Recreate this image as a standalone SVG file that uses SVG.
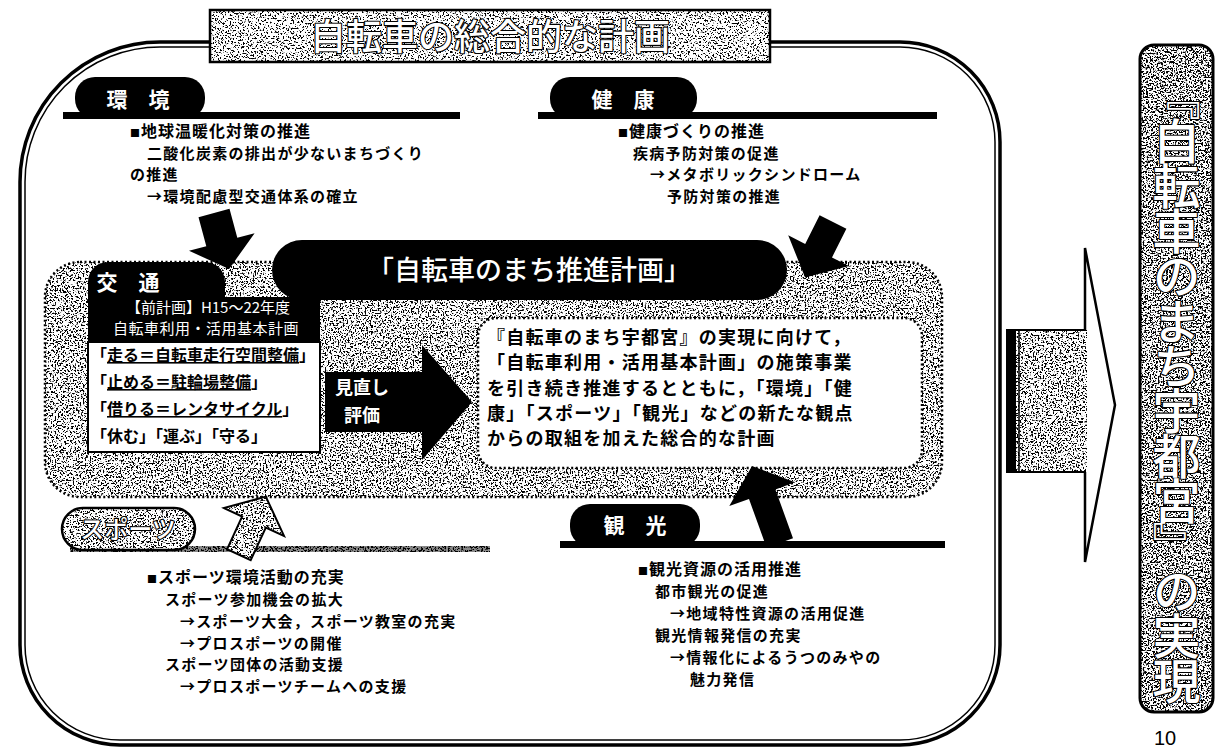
<svg xmlns="http://www.w3.org/2000/svg" width="1219" height="752" viewBox="0 0 1219 752">
<defs>
<style>
.t{font-family:"Noto Sans CJK JP","Noto Sans CJK SC",sans-serif;font-weight:700;font-size:15px;letter-spacing:1.3px;fill:#000}
.hd{font-size:16px;letter-spacing:1px}
.sq{font-size:10px}
.lab{font-family:"Noto Sans CJK JP","Noto Sans CJK SC",sans-serif;font-weight:700;font-size:21px;fill:#fff;text-anchor:middle}
.ol{font-family:"Noto Sans CJK JP","Noto Sans CJK SC",sans-serif;font-weight:500;fill:#fff;stroke:#000;stroke-width:2.2px;paint-order:stroke fill;stroke-linejoin:round}
.blk{fill:#000}
.dotted{fill:none;stroke:#000;stroke-width:2.5;stroke-dasharray:2 2.5}
.box{fill:none;stroke:#000;stroke-width:2.5}
.body{font-size:18px;letter-spacing:1.25px}
.hdr{font-family:"Noto Sans CJK JP","Noto Sans CJK SC",sans-serif;font-weight:400;font-size:15px;fill:#fff;text-anchor:middle}
</style>
<filter id="stipL" x="0" y="0" width="1" height="1" color-interpolation-filters="sRGB">
<feTurbulence type="fractalNoise" baseFrequency="0.6" numOctaves="2" seed="7" result="n"/>
<feColorMatrix in="n" type="matrix" values="0 0 0 0 0  0 0 0 0 0  0 0 0 0 0  -12 0 0 0 5.35" result="d"/>
<feComposite in="d" in2="SourceAlpha" operator="in" result="c"/>
<feMerge><feMergeNode in="SourceGraphic"/><feMergeNode in="c"/></feMerge>
</filter>
<filter id="stipM" x="0" y="0" width="1" height="1" color-interpolation-filters="sRGB">
<feTurbulence type="fractalNoise" baseFrequency="0.6" numOctaves="2" seed="5" result="n"/>
<feColorMatrix in="n" type="matrix" values="0 0 0 0 0  0 0 0 0 0  0 0 0 0 0  -12 0 0 0 5.6" result="d"/>
<feComposite in="d" in2="SourceAlpha" operator="in" result="c"/>
<feMerge><feMergeNode in="SourceGraphic"/><feMergeNode in="c"/></feMerge>
</filter>
<filter id="stipD" x="0" y="0" width="1" height="1" color-interpolation-filters="sRGB">
<feTurbulence type="fractalNoise" baseFrequency="0.6" numOctaves="2" seed="11" result="n"/>
<feColorMatrix in="n" type="matrix" values="0 0 0 0 0  0 0 0 0 0  0 0 0 0 0  -12 0 0 0 6.05" result="d"/>
<feComposite in="d" in2="SourceAlpha" operator="in" result="c"/>
<feMerge><feMergeNode in="SourceGraphic"/><feMergeNode in="c"/></feMerge>
</filter>
</defs>
<rect width="1219" height="752" fill="#fff"/>

<g id="frame">
<path d="M160,42 H900 A100,100 0 0 1 1000,142 V645 A100,100 0 0 1 900,745 H120 A100,100 0 0 1 20,645 V182 A140,140 0 0 1 160,42 Z" fill="none" stroke="#000" stroke-width="3.5"/>
<path d="M160,47 H900 A95,95 0 0 1 995,142 V645 A95,95 0 0 1 900,740 H120 A95,95 0 0 1 25,645 V182 A135,135 0 0 1 160,47 Z" fill="none" stroke="#000" stroke-width="1.5"/>
</g>

<g id="title">
<rect x="210" y="10" width="560" height="52" fill="#fff" filter="url(#stipL)"/>
<rect x="210" y="10" width="560" height="52" class="box"/>
<text x="490" y="50" class="ol" font-size="36" text-anchor="middle">自転車の総合的な計画</text>
</g>

<g id="plan-band">
<rect x="45" y="262" width="897" height="235" rx="35" fill="#fff" filter="url(#stipM)"/>
<rect x="45" y="262" width="897" height="235" rx="35" class="dotted"/>
</g>

<g id="plan-title">
<rect x="272" y="240" width="515" height="60" rx="30" class="blk"/>
<text x="529" y="280" class="lab" style="font-size:27px;font-weight:500">「自転車のまち推進計画」</text>
</g>

<g id="traffic">
<path d="M88,342 V282 A20,20 0 0 1 108,262 H205 A20,20 0 0 1 225,282 V297 H320 V342 Z" class="blk"/>
<rect x="88" y="342" width="232" height="110" fill="#fff" stroke="#000" stroke-width="2"/>
<text x="128" y="290" class="lab">交　通</text>
<text x="208" y="313" class="hdr">【前計画】H15～22年度</text>
<text x="206" y="334" class="hdr" letter-spacing="0.5">自転車利用・活用基本計画</text>
<text x="91" y="361" class="t" style="font-size:16px;letter-spacing:0">「<tspan text-decoration="underline">走る＝自転車走行空間整備</tspan>」</text>
<text x="91" y="388" class="t" style="font-size:16px;letter-spacing:0">「<tspan text-decoration="underline">止める＝駐輪場整備</tspan>」</text>
<text x="91" y="415" class="t" style="font-size:16px;letter-spacing:0">「<tspan text-decoration="underline">借りる＝レンタサイクル</tspan>」</text>
<text x="91" y="442" class="t" style="font-size:16px;letter-spacing:0">「休む」「運ぶ」「守る」</text>
</g>

<g id="plan-summary">
<rect x="478" y="318" width="444" height="150" rx="18" fill="#fff"/>
<rect x="478" y="318" width="444" height="150" rx="18" class="dotted"/>
<text x="487" y="344" class="t body">『自転車のまち宇都宮』の実現に向けて，</text>
<text x="487" y="369" class="t body">「自転車利用・活用基本計画」の施策事業</text>
<text x="487" y="395" class="t body">を引き続き推進するとともに，「環境」「健</text>
<text x="487" y="420" class="t body">康」「スポーツ」「観光」などの新たな観点</text>
<text x="487" y="445" class="t body">からの取組を加えた総合的な計画</text>
</g>

<g id="environment">
<rect x="75" y="77" width="130" height="42" rx="20" class="blk"/>
<rect x="63" y="112" width="397" height="7" class="blk"/>
<text x="138" y="107" class="lab">環　境</text>
<text x="130" y="137" class="t hd"><tspan class="sq">■</tspan>地球温暖化対策の推進</text>
<text x="147" y="158.5" class="t">二酸化炭素の排出が少ないまちづくり</text>
<text x="130" y="180" class="t">の推進</text>
<text x="147" y="201.5" class="t">→環境配慮型交通体系の確立</text>
</g>

<g id="health">
<rect x="550" y="77" width="147" height="42" rx="20" class="blk"/>
<rect x="538" y="112" width="399" height="7" class="blk"/>
<text x="623" y="107" class="lab">健　康</text>
<text x="618" y="137" class="t hd"><tspan class="sq">■</tspan>健康づくりの推進</text>
<text x="633" y="158.5" class="t">疾病予防対策の促進</text>
<text x="650" y="180" class="t">→メタボリックシンドローム</text>
<text x="667" y="201.5" class="t">予防対策の推進</text>
</g>

<g id="sports">
<rect x="70" y="546" width="420" height="6" fill="#888" filter="url(#stipD)"/>
<rect x="62" y="508" width="133" height="42" rx="21" fill="#fff" filter="url(#stipM)"/>
<rect x="62" y="508" width="133" height="42" rx="21" class="box"/>
<text x="128" y="538" class="ol" font-size="24" text-anchor="middle">スポーツ</text>
<text x="147" y="583" class="t hd"><tspan class="sq">■</tspan>スポーツ環境活動の充実</text>
<text x="165" y="605" class="t">スポーツ参加機会の拡大</text>
<text x="180" y="627" class="t">→スポーツ大会，スポーツ教室の充実</text>
<text x="180" y="648.5" class="t">→プロスポーツの開催</text>
<text x="165" y="670" class="t">スポーツ団体の活動支援</text>
<text x="180" y="692" class="t">→プロスポーツチームへの支援</text>
</g>

<g id="tourism">
<rect x="570" y="504" width="130" height="43" rx="20" class="blk"/>
<rect x="560" y="541" width="385" height="7" class="blk"/>
<text x="635" y="533" class="lab">観　光</text>
<text x="638" y="575" class="t hd"><tspan class="sq">■</tspan>観光資源の活用推進</text>
<text x="655" y="597" class="t">都市観光の促進</text>
<text x="670" y="619" class="t">→地域特性資源の活用促進</text>
<text x="655" y="641" class="t">観光情報発信の充実</text>
<text x="670" y="663" class="t">→情報化によるうつのみやの</text>
<text x="690" y="684.5" class="t">魅力発信</text>
</g>

<g id="realization">
<rect x="1140" y="45" width="73" height="667" rx="14" fill="#fff" filter="url(#stipD)"/>
<rect x="1140" y="45" width="73" height="667" rx="14" fill="none" stroke="#000" stroke-width="3"/>
<text x="1176.5" y="387" class="ol" font-size="48" text-anchor="middle" letter-spacing="-3" style="writing-mode:vertical-rl">『自転車のまち宇都宮』の実現</text>
</g>

<g id="connectors">
<polygon points="198.5,217.2 229.5,208.8 237.3,237.8 254.6,233.2 229.1,269 189,250.8 206.3,246.2" class="blk"/>
<polygon points="819.6,215.3 846.4,228.8 832,257.4 849,265.9 805.1,277.4 788.2,235.3 805.2,243.9" class="blk"/>
<polygon points="752,466 795.1,482.3 775.4,489.4 793,538.2 766.6,547.8 749,499 729.3,506.1" class="blk"/>
<polygon points="265.8,496.6 284,535.9 265.8,527.5 250.7,560.2 227.1,549.2 242.2,516.5 224,508.1" fill="#fff" filter="url(#stipM)"/>
<polygon points="265.8,496.6 284,535.9 265.8,527.5 250.7,560.2 227.1,549.2 242.2,516.5 224,508.1" fill="none" stroke="#000" stroke-width="2" stroke-linejoin="miter"/>
<g id="review">
<path d="M325,372 H422 V345 L472,402 L422,460 V432 H325 Z" class="blk"/>
<text x="362" y="394" class="lab" style="font-size:18px">見直し</text>
<text x="362" y="422" class="lab" style="font-size:18px">評価</text>
</g>
<g id="to-realization">
<polygon points="1085,248 1115,405 1085,562" fill="#fff" stroke="#000" stroke-width="2.5" stroke-linejoin="miter"/>
<rect x="1007" y="330" width="80" height="142" fill="#fff" filter="url(#stipM)"/>
<path d="M1086,330 H1007 V472 H1086" fill="none" stroke="#000" stroke-width="2"/>
<rect x="1007" y="330" width="9" height="142" class="blk"/>
<line x1="1019" y1="331" x2="1019" y2="471" stroke="#000" stroke-width="1.5"/>
</g>
</g>

<text x="1165" y="745" font-family="Liberation Sans, sans-serif" font-size="20" text-anchor="middle">10</text>
</svg>
